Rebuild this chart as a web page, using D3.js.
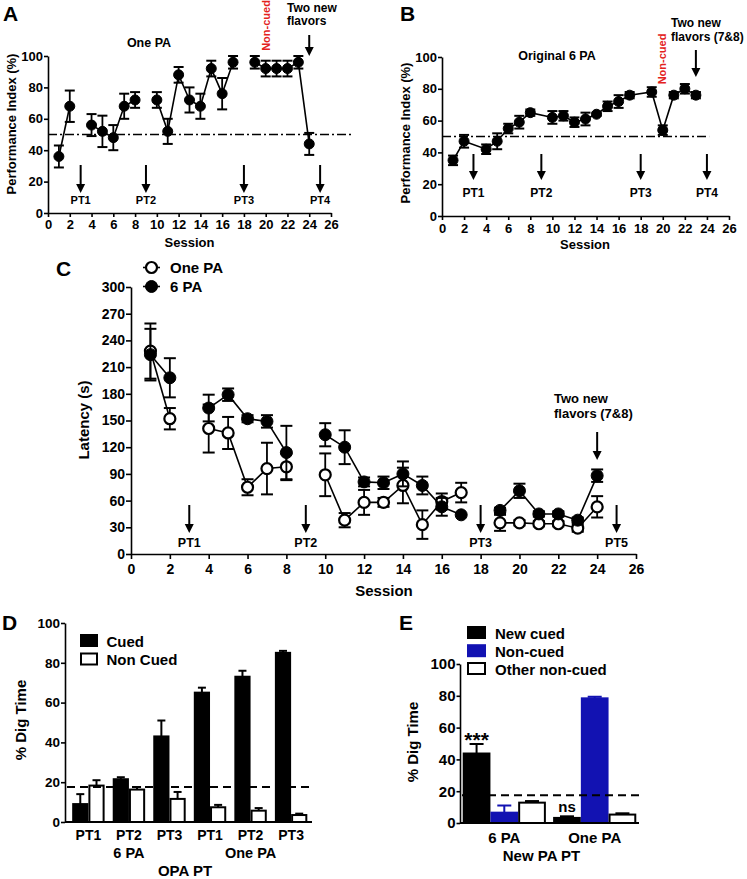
<!DOCTYPE html>
<html><head><meta charset="utf-8">
<script src="https://cdn.jsdelivr.net/npm/d3@7"></script>
<style>
body{margin:0;background:#fff;}
svg{display:block;}
</style></head><body>
<svg id="fig" width="747" height="879"></svg>
<script>
// ---------------- DATA ----------------
// Panel A: One PA performance index
const sessionsA = [1,2,4,5,6,7,8,10,11,12,13,14,15,16,17,19,20,21,22,23,24];
const piA       = [36,68,56,52,48,68,72,72,52,88,72,68,92,76,96,96,92,92,92,96,44];
const semA      = [7,10,7,10,8,8,5,5,8,5,8,8,5,10,4,4,5,5,5,4,7];
const probeA    = [{s:3,label:"PT1"},{s:9,label:"PT2"},{s:18,label:"PT3"},{s:25,label:"PT4"}];

// Panel B: Original 6 PA performance index
const sessionsB = [1,2,4,5,6,7,8,10,11,12,13,14,15,16,17,19,20,21,22,23];
const piB       = [35,47,42,47,55,59,65,62,63,59,61,64,69,72,76,78,54,76,80,76];
const semB      = [3,4,3,5,3,4,2,4,3,3,4,1,3,4,2,3,3,2,3,2];
const probeB    = [{s:2.85,label:"PT1"},{s:9,label:"PT2"},{s:18,label:"PT3"},{s:24,label:"PT4"}];

// Panel C: latency
const sessionsC = [1,2,4,5,6,7,8,10,11,12,13,14,15,16,17,19,20,21,22,23,24];
const latOnePA  = [228,152,141,136,75,96,98,89,38,58,58,77,33,59,69,35,35,34,34,29,53];
const semOnePA  = [31,12,27,18,9,29,15,24,8,14,5,20,16,9,11,9,3,3,3,4,12];
const lat6PA    = [224,198,164,179,152,149,114,134,120,81,80,90,77,53,44,49,71,45,45,38,88];
const sem6PA    = [29,22,15,7,4,7,30,13,19,5,7,14,10,10,0,3,8,3,3,3,7];
const probeC    = [{s:3,label:"PT1"},{s:9,label:"PT2"},{s:18,label:"PT3"},{s:25,label:"PT5"}];

const sessionTicks = [0,2,4,6,8,10,12,14,16,18,20,22,24,26];
const piTicks      = [0,20,40,60,80,100];
const latTicks     = [0,30,60,90,120,150,180,210,240,270,300];

// Panel D: OPA probe trials
const dProbe      = ["PT1","PT2","PT3","PT1","PT2","PT3"];
const dGroupNames = [{i:1,name:"6 PA"},{i:4,name:"One PA"}];
const dCued       = [9,21.5,43,65,73,85];
const dCuedSem    = [5,1,8,2.5,3,1];
const dNonCued    = [18.3,16.3,11.6,7.4,5.7,3.5];
const dNonCuedSem = [2.7,1.3,3.5,1.2,1.3,0.7];
const dChance     = 17.6;

// Panel E: new PA probe trial
const eGroups       = ["6 PA","One PA"];
const eNewCued      = [43.7,3.2];
const eNewCuedSem   = [6,1];
const eNonCued      = [6.5,78.4];
const eNonCuedSem   = [4.5,1];
const eOtherNC      = [12.8,5.3];
const eOtherNCSem   = [1,0.8];
const eSig          = ["***","ns"];
const eChance       = 17.5;
const pctTicks      = [0,20,40,60,80,100];

// ---------------- HELPERS ----------------
const FONT = '"Liberation Sans", Arial, Helvetica, sans-serif';
const BLUE = "#1212b2";
const RED = "#e3221d";
const svg = d3.select("#fig").attr("font-family", FONT).attr("font-weight","bold");

function styleAxis(s, fs){
  s.attr("font-family", FONT).attr("font-weight","bold").attr("font-size", fs);
  s.select(".domain").attr("stroke","#000").attr("stroke-width",1.6);
  s.selectAll(".tick line").attr("stroke","#000").attr("stroke-width",1.6);
  s.selectAll(".tick text").attr("fill","#000");
}
function text(x,y,str,opt={}){
  const t = svg.append("text").attr("x",x).attr("y",y).text(str)
    .attr("font-size",opt.fs||13).attr("text-anchor",opt.anchor||"start")
    .attr("fill",opt.fill||"#000").attr("font-weight", opt.weight||"bold");
  if(opt.rot){ t.attr("x",0).attr("y",0).attr("transform",`translate(${x},${y}) rotate(-90)`).attr("dy","0.35em"); }
  return t;
}
function arrow(x, y1, y2, hw=4.5, hl=9){
  svg.append("line").attr("x1",x).attr("x2",x).attr("y1",y1).attr("y2",y2-hl+1)
    .attr("stroke","#000").attr("stroke-width",2);
  svg.append("path").attr("d",`M${x-hw},${y2-hl}L${x+hw},${y2-hl}L${x},${y2}Z`).attr("fill","#000");
}
function lineSeries(x, y, sessions, vals, sems, o){
  const pts = sessions.map((s,i)=>({s, v:vals[i], e:sems[i]}));
  let segs = [];
  if(o.continuous) segs=[pts];
  else pts.forEach((p,i)=>{ if(i===0 || p.s - pts[i-1].s > 1) segs.push([]); segs[segs.length-1].push(p); });
  const ln = d3.line().x(d=>x(d.s)).y(d=>y(d.v));
  segs.forEach(seg=> svg.append("path").attr("d",ln(seg)).attr("fill","none").attr("stroke","#000").attr("stroke-width",1.6));
  pts.forEach(p=>{
    if(p.e<=0) return;
    const cx=x(p.s), y1=y(p.v+p.e), y2=y(p.v-p.e);
    svg.append("line").attr("x1",cx).attr("x2",cx).attr("y1",y1).attr("y2",y2).attr("stroke","#000").attr("stroke-width",1.8);
    [y1,y2].forEach(yy=> svg.append("line").attr("x1",cx-o.cap/2).attr("x2",cx+o.cap/2).attr("y1",yy).attr("y2",yy).attr("stroke","#000").attr("stroke-width",2));
  });
  svg.append("g").selectAll("circle").data(pts).join("circle")
    .attr("cx",d=>x(d.s)).attr("cy",d=>y(d.v)).attr("r",o.r)
    .attr("fill",o.open?"#fff":"#000").attr("stroke","#000").attr("stroke-width",o.open?2.2:1);
}
function chanceLine(x1,x2,yy,dash,w){
  svg.append("line").attr("x1",x1).attr("x2",x2).attr("y1",yy).attr("y2",yy)
    .attr("stroke","#000").attr("stroke-width",w).attr("stroke-dasharray",dash);
}

// ---------------- PANEL A ----------------
{
  const x = d3.scaleLinear([0,26],[48,331]);
  const y = d3.scaleLinear([0,100],[213,56]);
  chanceLine(x(0), x(28), y(50), "9,3,2,3", 1.5);
  const ya = svg.append("g").attr("transform",`translate(${x(0)},0)`)
    .call(d3.axisLeft(y).tickValues(piTicks).tickSize(4).tickSizeOuter(0).tickPadding(1));
  styleAxis(ya,13);
  const xa = svg.append("g").attr("transform",`translate(0,${y(0)})`)
    .call(d3.axisBottom(x).tickValues(sessionTicks).tickSize(4).tickSizeOuter(0).tickPadding(3));
  styleAxis(xa,13);
  lineSeries(x,y,sessionsA,piA,semA,{r:5,cap:10,open:false});
  probeA.forEach(p=>{ arrow(x(p.s),165,193); text(x(p.s),204,p.label,{fs:11,anchor:"middle"}); });
  arrow(x(24),35,56);
  text(287,11.5,"Two new",{fs:12});
  text(287,25,"flavors",{fs:12});
  text(266,25.5,"Non-cued",{fs:11,anchor:"middle",fill:RED,rot:true});
  text(149,47,"One PA",{fs:12.5,anchor:"middle"});
  text(11.5,124,"Performance Index (%)",{fs:13,anchor:"middle",rot:true});
  text(189.5,247,"Session",{fs:13,anchor:"middle"});
  text(3,21,"A",{fs:21});
}

// ---------------- PANEL B ----------------
{
  const x = d3.scaleLinear([0,26],[442,729]);
  const y = d3.scaleLinear([0,100],[216,57]);
  chanceLine(x(0), x(24.2), y(50), "9,3,2,3", 1.5);
  const ya = svg.append("g").attr("transform",`translate(${x(0)},0)`)
    .call(d3.axisLeft(y).tickValues(piTicks).tickSize(4).tickSizeOuter(0).tickPadding(1));
  styleAxis(ya,13);
  const xa = svg.append("g").attr("transform",`translate(0,${y(0)})`)
    .call(d3.axisBottom(x).tickValues(sessionTicks).tickSize(4).tickSizeOuter(0).tickPadding(4));
  styleAxis(xa,13);
  lineSeries(x,y,sessionsB,piB,semB,{r:5,cap:10,open:false,continuous:true});
  probeB.forEach(p=>{ arrow(x(p.s),154,180); text(x(p.s),197,p.label,{fs:12,anchor:"middle"}); });
  arrow(x(23),50,77);
  text(671,26.5,"Two new",{fs:12});
  text(671,40.5,"flavors (7&8)",{fs:12});
  text(662.5,59,"Non-cued",{fs:11,anchor:"middle",fill:RED,rot:true});
  text(557,60,"Original 6 PA",{fs:12.5,anchor:"middle"});
  text(405,133,"Performance Index (%)",{fs:13,anchor:"middle",rot:true});
  text(585,249,"Session",{fs:13,anchor:"middle"});
  text(400,21,"B",{fs:21});
}

// ---------------- PANEL C ----------------
{
  const x = d3.scaleLinear([0,26],[131,636]);
  const y = d3.scaleLinear([0,300],[554,287]);
  const ya = svg.append("g").attr("transform",`translate(${x(0)},0)`)
    .call(d3.axisLeft(y).tickValues(latTicks).tickSize(5).tickSizeOuter(0).tickPadding(1));
  styleAxis(ya,14);
  const xa = svg.append("g").attr("transform",`translate(0,${y(0)})`)
    .call(d3.axisBottom(x).tickValues(sessionTicks).tickSize(5).tickSizeOuter(0).tickPadding(5));
  styleAxis(xa,14);
  lineSeries(x,y,sessionsC,latOnePA,semOnePA,{r:5.5,cap:12,open:true});
  lineSeries(x,y,sessionsC,lat6PA,sem6PA,{r:6,cap:12,open:false});
  probeC.forEach(p=>{ arrow(x(p.s),505,533); text(x(p.s),547,p.label,{fs:12.5,anchor:"middle"}); });
  arrow(x(24),432,460);
  text(554,403,"Two new",{fs:13});
  text(554,418,"flavors (7&8)",{fs:13});
  // legend
  const legendC = [{name:"One PA",open:true,y:267.5},{name:"6 PA",open:false,y:286.5}];
  legendC.forEach(l=>{
    svg.append("line").attr("x1",143).attr("x2",160).attr("y1",l.y).attr("y2",l.y).attr("stroke","#000").attr("stroke-width",1.6);
    svg.append("circle").attr("cx",151.5).attr("cy",l.y).attr("r",l.open?5.5:6)
      .attr("fill",l.open?"#fff":"#000").attr("stroke","#000").attr("stroke-width",l.open?2.2:1);
    text(170,l.y+5.3,l.name,{fs:15});
  });
  text(84,420,"Latency (s)",{fs:15,anchor:"middle",rot:true});
  text(384,596,"Session",{fs:15,anchor:"middle"});
  text(56,276,"C",{fs:21});
}

// ---------------- PANEL D ----------------
{
  const y = d3.scaleLinear([0,100],[822,623]);
  const xg = d3.scaleBand().domain(d3.range(dProbe.length)).range([66.5,313]).paddingInner(0.2).paddingOuter(0.14);
  const xs = d3.scaleBand().domain(["cued","non"]).range([0,xg.bandwidth()]);
  const rows = dProbe.map((p,i)=>({i, cued:dCued[i], cs:dCuedSem[i], non:dNonCued[i], ns:dNonCuedSem[i]}));
  rows.forEach(r=>{
    [["cued",r.cued,r.cs,"#000"],["non",r.non,r.ns,"#fff"]].forEach(([k,v,e,f])=>{
      const bx = xg(r.i)+xs(k), bw = xs.bandwidth(), cx = bx+bw/2;
      svg.append("line").attr("x1",cx).attr("x2",cx).attr("y1",y(v)).attr("y2",y(v+e)).attr("stroke","#000").attr("stroke-width",2);
      svg.append("line").attr("x1",cx-4).attr("x2",cx+4).attr("y1",y(v+e)).attr("y2",y(v+e)).attr("stroke","#000").attr("stroke-width",2);
      svg.append("rect").attr("x",bx+1).attr("y",y(v)).attr("width",bw-2).attr("height",y(0)-y(v))
        .attr("fill",f).attr("stroke","#000").attr("stroke-width",2);
    });
  });
  chanceLine(67, 312, y(dChance), "8,5", 2);
  const ya = svg.append("g").attr("transform",`translate(65,0)`)
    .call(d3.axisLeft(y).tickValues(pctTicks).tickSize(4).tickSizeOuter(0).tickPadding(1));
  styleAxis(ya,13.5);
  svg.append("line").attr("x1",65).attr("x2",312).attr("y1",y(0)).attr("y2",y(0)).attr("stroke","#000").attr("stroke-width",2);
  dProbe.forEach((p,i)=> text(xg(i)+xg.bandwidth()/2, 840, p, {fs:14,anchor:"middle"}));
  dGroupNames.forEach(g=> text(xg(g.i)+xg.bandwidth()/2, 858, g.name, {fs:14.5,anchor:"middle"}));
  text(185,876,"OPA PT",{fs:15,anchor:"middle"});
  text(21,720,"% Dig Time",{fs:15,anchor:"middle",rot:true});
  // legend
  const legD = [{name:"Cued",fill:"#000",y:646.5},{name:"Non Cued",fill:"#fff",y:665}];
  legD.forEach(l=>{
    svg.append("rect").attr("x",81).attr("y",l.y-11.5).attr("width",16).attr("height",11)
      .attr("fill",l.fill).attr("stroke","#000").attr("stroke-width",2);
    text(106.5,l.y,l.name,{fs:15});
  });
  text(2,630,"D",{fs:21});
}

// ---------------- PANEL E ----------------
{
  const y = d3.scaleLinear([0,100],[823,664]);
  const xg = d3.scaleBand().domain(eGroups).range([460,639]).paddingInner(0.08).paddingOuter(0.03);
  const xs = d3.scaleBand().domain(["new","non","other"]).range([0,xg.bandwidth()]);
  eGroups.forEach((g,i)=>{
    const items = [["new",eNewCued[i],eNewCuedSem[i],"#000","#000"],
                   ["non",eNonCued[i],eNonCuedSem[i],BLUE,BLUE],
                   ["other",eOtherNC[i],eOtherNCSem[i],"#fff","#000"]];
    items.forEach(([k,v,e,f,sc])=>{
      const bx = xg(g)+xs(k), bw = xs.bandwidth(), cx = bx+bw/2;
      svg.append("line").attr("x1",cx).attr("x2",cx).attr("y1",y(v)).attr("y2",y(v+e)).attr("stroke",sc).attr("stroke-width",2);
      svg.append("line").attr("x1",cx-7).attr("x2",cx+7).attr("y1",y(v+e)).attr("y2",y(v+e)).attr("stroke",sc).attr("stroke-width",2);
      svg.append("rect").attr("x",bx+1).attr("y",y(v)).attr("width",bw-2).attr("height",y(0)-y(v))
        .attr("fill",f).attr("stroke",sc).attr("stroke-width",2);
    });
    const nx = xg(g)+xs("new")+xs.bandwidth()/2;
    const top = y(eNewCued[i]+eNewCuedSem[i]);
    if(eSig[i]==="***") text(nx, top+3, eSig[i], {fs:21,anchor:"middle"});
    else text(nx, top-4, eSig[i], {fs:15,anchor:"middle"});
  });
  chanceLine(462, 639, y(eChance), "8,5", 2);
  const ya = svg.append("g").attr("transform",`translate(460,0)`)
    .call(d3.axisLeft(y).tickValues(pctTicks).tickSize(3.5).tickSizeOuter(0).tickPadding(1));
  styleAxis(ya,15);
  svg.append("line").attr("x1",460).attr("x2",639).attr("y1",y(0)).attr("y2",y(0)).attr("stroke","#000").attr("stroke-width",2);
  eGroups.forEach(g=> text(xg(g)+xg.bandwidth()/2, 843, g, {fs:15,anchor:"middle"}));
  text(541.5,861,"New PA PT",{fs:15,anchor:"middle"});
  text(412.5,742,"% Dig Time",{fs:15,anchor:"middle",rot:true});
  const legE = [{name:"New cued",fill:"#000",st:"#000",y:638.5},{name:"Non-cued",fill:BLUE,st:BLUE,y:656.7},{name:"Other non-cued",fill:"#fff",st:"#000",y:674.5}];
  legE.forEach(l=>{
    svg.append("rect").attr("x",468).attr("y",l.y-11.5).attr("width",17).attr("height",11)
      .attr("fill",l.fill).attr("stroke",l.st).attr("stroke-width",2);
    text(495,l.y,l.name,{fs:15});
  });
  text(399,630,"E",{fs:21});
}
</script>
</body></html>
